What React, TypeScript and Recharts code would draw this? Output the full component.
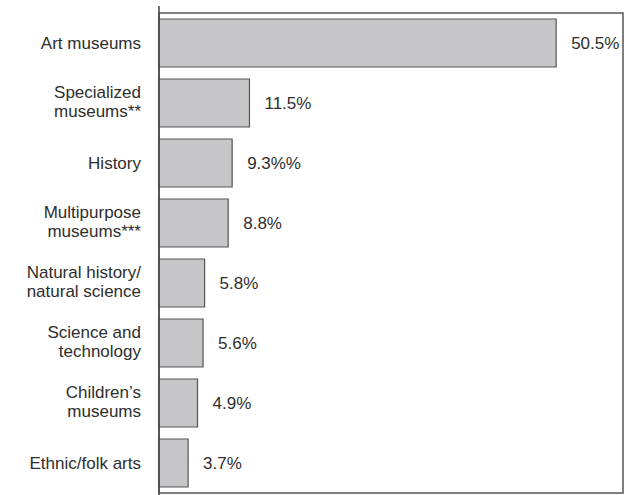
import React from "react";
import { BarChart, Bar, XAxis, YAxis, LabelList, ReferenceArea } from "recharts";

const categories = [
  "Art museums",
  "Specialized\nmuseums**",
  "History",
  "Multipurpose\nmuseums***",
  "Natural history/\nnatural science",
  "Science and\ntechnology",
  "Children’s\nmuseums",
  "Ethnic/folk arts",
];
const values = [50.5, 11.5, 9.3, 8.8, 5.8, 5.6, 4.9, 3.7];
const valueLabels = ["50.5%", "11.5%", "9.3%%", "8.8%", "5.8%", "5.6%", "4.9%", "3.7%"];

const data = categories.map((c, i) => ({ name: c, value: values[i], label: valueLabels[i] }));

const FONT = "'Liberation Sans', Arial, sans-serif";
const TEXT = "#2e2e2e";

const CategoryTick = (props: any) => {
  const { x, y, payload } = props;
  const lines = String(payload.value).split("\n");
  if (lines.length === 1) {
    return (
      <text x={x} y={y + 6} textAnchor="end" fontSize={17} fontFamily={FONT} fill={TEXT}>
        {lines[0]}
      </text>
    );
  }
  return (
    <g>
      <text x={x} y={y - 5} textAnchor="end" fontSize={17} fontFamily={FONT} fill={TEXT}>
        {lines[0]}
      </text>
      <text x={x} y={y + 14} textAnchor="end" fontSize={17} fontFamily={FONT} fill={TEXT}>
        {lines[1]}
      </text>
    </g>
  );
};

const ValueLabel = (props: any) => {
  const { x, y, width, height, value } = props;
  return (
    <text x={x + width + 15} y={y + height / 2 + 6} fontSize={17} fontFamily={FONT} fill={TEXT}>
      {value}
    </text>
  );
};

export default function App() {
  return (
    <div style={{ position: "absolute", left: 0, top: 0, background: "#fff" }}>
      <BarChart
        width={629}
        height={495}
        data={data}
        layout="vertical"
        margin={{ top: 6, right: 6, bottom: -3, left: 0 }}
        barSize={48}
      >
        <XAxis type="number" domain={[0, 59]} hide />
        <YAxis
          type="category"
          dataKey="name"
          width={159}
          tickLine={false}
          axisLine={{ stroke: "#444", strokeWidth: 1.5 }}
          tick={<CategoryTick />}
          tickMargin={12}
          padding={{ top: 7, bottom: 5 }}
          interval={0}
        />
        <ReferenceArea x1={0} x2={59} fill="none" stroke="#555" strokeWidth={1.5} ifOverflow="visible" />
        <Bar dataKey="value" fill="#c6c6c8" stroke="#555" strokeWidth={1.2} isAnimationActive={false}>
          <LabelList dataKey="label" content={<ValueLabel />} />
        </Bar>
      </BarChart>
    </div>
  );
}
